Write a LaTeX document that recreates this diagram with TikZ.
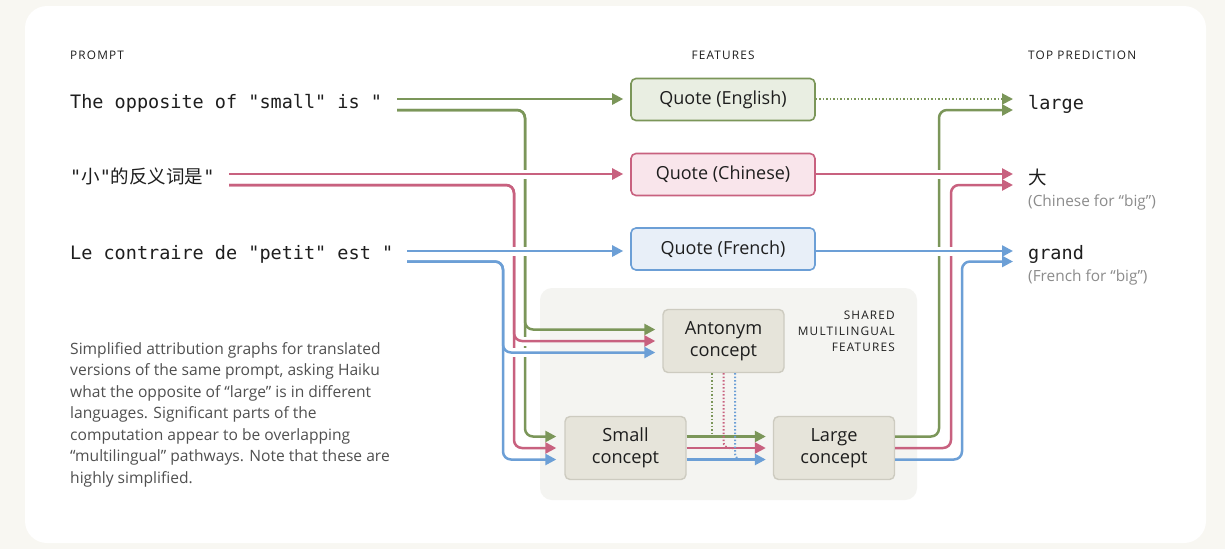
\documentclass[tikz,border=0pt]{standalone}
\usepackage{fontspec}
\setmainfont{Open Sans}
\setmonofont{DejaVu Sans Mono}
\newfontfamily\cjkfont{Noto Sans CJK SC}
\newfontfamily\capsfont[LetterSpace=10]{Open Sans}
\usetikzlibrary{arrows.meta}

\definecolor{pageback}{HTML}{F8F7F2}
\definecolor{sharedback}{HTML}{F4F4F1}
\definecolor{conceptfill}{HTML}{E6E4DA}
\definecolor{conceptline}{HTML}{CDCBC0}
\definecolor{engline}{HTML}{7B9659}
\definecolor{engfill}{HTML}{E9EEE2}
\definecolor{zhline}{HTML}{C8617F}
\definecolor{zhfill}{HTML}{F9E5EB}
\definecolor{frline}{HTML}{6C9FD6}
\definecolor{frfill}{HTML}{E8EFF8}
\definecolor{ink}{HTML}{1E1E1E}
\definecolor{bodytext}{HTML}{505050}
\definecolor{greytext}{HTML}{8C8C8C}

\begin{document}
\begin{tikzpicture}[x=1pt, y=-1pt,
	feature/.style={draw, line width=1.6pt, rounded corners=5pt, minimum width=184pt, minimum height=42pt, font=\fontsize{18}{21}\selectfont, text=ink},
	concept/.style={draw=conceptline, fill=conceptfill, line width=1.4pt, rounded corners=5pt, minimum width=121pt, minimum height=63pt, align=center, font=\fontsize{18.2}{21.5}\selectfont, text=ink},
	wire/.style={line width=2.5pt, rounded corners=8pt, -{Triangle[length=11pt,width=11pt]}},
	dotwire/.style={line width=2pt, dash pattern=on 1.5pt off 2pt},
	heading/.style={anchor=base west, inner sep=0pt, font=\capsfont\fontsize{11.8}{16}\selectfont, text=ink},
	prompt/.style={anchor=base west, inner sep=0pt, font=\ttfamily\fontsize{18.5}{22}\selectfont, text=ink},
	gloss/.style={anchor=base west, inner sep=0pt, font=\fontsize{15.4}{18}\selectfont, text=greytext}
]

	\useasboundingbox (0,0) rectangle (1225,549);

	% page
	\fill[pageback] (0,0) rectangle (1225,549);
	\fill[white, rounded corners=22pt] (25,6) rectangle (1206,543);

	% shared multilingual area
	\fill[sharedback, rounded corners=12pt] (540,288) rectangle (917,500);
	\node[heading, anchor=base east, align=right] (shared) at (895,351.7) {SHARED\\MULTILINGUAL\\FEATURES};

	% column headings
	\node[heading] (hPrompt) at (70,59) {PROMPT};
	\node[heading, anchor=base] (hFeat) at (723,59) {FEATURES};
	\node[heading] (hPred) at (1028,59) {TOP PREDICTION};

	% prompts
	\node[prompt] (pEn) at (70,108.3) {The opposite of "small" is "};
	\node[prompt] (pZh) at (70,183.5) {"{\cjkfont 小}"{\cjkfont 的反义词是}"};
	\node[prompt] (pFr) at (70,259.3) {Le contraire de "petit" est "};

	% features
	\node[feature, draw=engline, fill=engfill] (fEn) at (723,99.5) {Quote (English)};
	\node[feature, draw=zhline, fill=zhfill] (fZh) at (723,174.5) {Quote (Chinese)};
	\node[feature, draw=frline, fill=frfill] (fFr) at (723,249) {Quote (French)};

	% concepts
	\node[concept] (cAnt) at (723.5,341) {Antonym\\concept};
	\node[concept] (cSmall) at (625.5,448) {Small\\concept};
	\node[concept] (cLarge) at (834,448) {Large\\concept};

	% predictions
	\node[prompt] (tLarge) at (1028,109.3) {large};
	\node[prompt] (tDa) at (1028,184) {\cjkfont 大};
	\node[gloss] (gDa) at (1028,206) {(Chinese for “big”)};
	\node[prompt] (tGrand) at (1028,259) {grand};
	\node[gloss] (gGrand) at (1028,281) {(French for “big”)};

	% note
	\node[anchor=base west, inner sep=0pt, align=left, font=\fontsize{15.6}{21.45}\selectfont, text=bodytext] (note) at (70,483)
		{Simplified attribution graphs for translated\\
		versions of the same prompt, asking Haiku\\
		what the opposite of “large” is in different\\
		languages. Significant parts of the\\
		computation appear to be overlapping\\
		“multilingual” pathways. Note that these are\\
		highly simplified.};

	% wire ends
	\coordinate (enA) at (397,99);
	\coordinate (enB) at (397,110);
	\coordinate (zhA) at (229,174);
	\coordinate (zhB) at (229,185);
	\coordinate (frA) at (407,251);
	\coordinate (frB) at (407,261.5);
	\coordinate (outEnA) at (1013,99);
	\coordinate (outEnB) at (1013,110);
	\coordinate (outZhA) at (1013,174);
	\coordinate (outZhB) at (1013,185);
	\coordinate (outFrA) at (1013,251);
	\coordinate (outFrB) at (1013,261.5);

	% english paths
	\draw[wire, engline, shorten >=7pt] (enA) -- (enA -| fEn.west);
	\draw[wire, engline, shorten >=7pt] (enB) -| (525,329.5) -- ([yshift=11.5pt]cAnt.west);
	\draw[wire, engline, shorten >=8pt] (enB) -| (525,436.5) -- ([yshift=11.5pt]cSmall.west);
	\draw[wire, engline, shorten >=7pt] ([yshift=11.5pt]cSmall.east) -- ([yshift=11.5pt]cLarge.west);
	\draw[wire, engline] ([yshift=11.5pt]cLarge.east) -| (939,110) -- (outEnB);
	\draw[wire, engline, dotwire] (enA -| fEn.east) -- (outEnA);
	\draw[engline, dotwire] ([xshift=-11.5pt]cAnt.south) -- (712,436.5);

	% gaps under chinese
	\foreach \x/\y in {525/174, 525/341, 939/174}
		\fill[white] (\x-3,\y-4.5) rectangle (\x+3,\y+4.5);

	% chinese paths
	\draw[wire, zhline, shorten >=7pt] (zhA) -- (zhA -| fZh.west);
	\draw[wire, zhline, shorten >=7pt] (zhB) -| (514,341) -- (cAnt.west);
	\draw[wire, zhline, shorten >=8pt] (zhB) -| (514,448) -- (cSmall.west);
	\draw[wire, zhline, shorten >=7pt] (cSmall.east) -- (cLarge.west);
	\draw[wire, zhline] (cLarge.east) -| (951,185) -- (outZhB);
	\draw[wire, zhline] (zhA -| fZh.east) -- (outZhA);
	\draw[zhline, dotwire, rounded corners=6pt] (cAnt.south) -- (723.5,448) -- (733,448);

	% gaps under french
	\foreach \x/\y in {525/251, 514/251, 525/352.5, 514/352.5, 939/251, 951/251}
		\fill[white] (\x-3,\y-4.5) rectangle (\x+3,\y+4.5);

	% french paths
	\draw[wire, frline, shorten >=7pt] (frA) -- (frA -| fFr.west);
	\draw[wire, frline, shorten >=7pt] (frB) -| (503,352.5) -- ([yshift=-11.5pt]cAnt.west);
	\draw[wire, frline, shorten >=8pt] (frB) -| (503,459.5) -- ([yshift=-11.5pt]cSmall.west);
	\draw[wire, frline, shorten >=7pt] ([yshift=-11.5pt]cSmall.east) -- ([yshift=-11.5pt]cLarge.west);
	\draw[wire, frline] ([yshift=-11.5pt]cLarge.east) -| (962,261.5) -- (outFrB);
	\draw[wire, frline] (frA -| fFr.east) -- (outFrA);
	\draw[frline, dotwire, rounded corners=6pt] ([xshift=11.5pt]cAnt.south) -- (735,459.5) -- (745,459.5);

\end{tikzpicture}
\end{document}
